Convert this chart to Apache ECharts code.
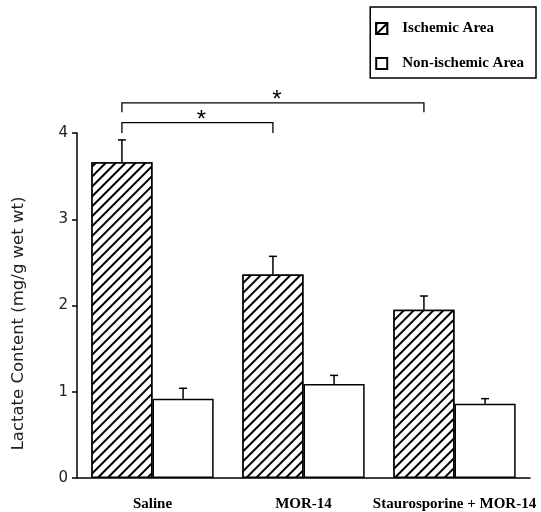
<!DOCTYPE html>
<html>
<head>
<meta charset="utf-8">
<script src="https://cdn.jsdelivr.net/npm/echarts@6/dist/echarts.min.js"></script>
<style>
html,body{margin:0;padding:0;background:#fff;}
#chart{width:541px;height:512px;}
</style>
</head>
<body>
<div id="chart"></div>
<script>
var categories = ['Saline', 'MOR-14', 'Staurosporine + MOR-14'];
var ischemic = [3.66, 2.36, 1.95];
var ischemicErr = [0.26, 0.21, 0.16];
var nonIschemic = [0.92, 1.09, 0.86];
var nonIschemicErr = [0.12, 0.10, 0.06];
var yTicks = [0, 1, 2, 3, 4];
// significance brackets: [fromCategory, toCategory, bracketLevel, dropLength]
var brackets = [[0, 1, 4.12, 0.12], [0, 2, 4.35, 0.11]];

var BAR_CAT_GAP = 0.19;
var chart = echarts.init(document.getElementById('chart'), null, {renderer: 'canvas'});

function barOffset(api, which) {
  var band = api.size([1, 0])[0];
  var w = band * (1 - BAR_CAT_GAP) / 2;
  return which === 0 ? -w / 2 : w / 2;
}

function errData(vals, errs, which) {
  return vals.map(function (v, i) { return [i, v, v + errs[i], which]; });
}

function renderErr(params, api) {
  var i = api.value(0);
  var off = barOffset(api, api.value(3));
  var p0 = api.coord([i, api.value(1)]);
  var p1 = api.coord([i, api.value(2)]);
  var x = p0[0] + off;
  var cap = 4;
  var st = {stroke: '#000', lineWidth: 1.5};
  return {
    type: 'group',
    children: [
      {type: 'line', shape: {x1: x, y1: p0[1], x2: x, y2: p1[1]}, style: st},
      {type: 'line', shape: {x1: x - cap, y1: p1[1], x2: x + cap, y2: p1[1]}, style: st}
    ]
  };
}

function renderBracket(params, api) {
  var a = api.value(0), b = api.value(1), lvl = api.value(2), drop = api.value(3);
  var off = barOffset(api, 0);
  var pa = api.coord([a, lvl]);
  var pb = api.coord([b, lvl]);
  var pd = api.coord([a, lvl - drop]);
  var xa = pa[0] + off, xb = pb[0] + off, y = pa[1], yd = pd[1];
  var st = {stroke: '#000', lineWidth: 1.3, fill: null};
  return {
    type: 'group',
    children: [
      {type: 'polyline', shape: {points: [[xa, yd], [xa, y], [xb, y], [xb, yd]]}, style: st},
      {type: 'text', style: {text: '*', x: (xa + xb) / 2 + 4, y: y + 10, textAlign: 'center', textVerticalAlign: 'bottom', font: '24px "Liberation Sans"', fill: '#000'}}
    ]
  };
}

var hatch = {
  symbol: 'rect',
  symbolSize: 1,
  color: '#000',
  backgroundColor: '#fff',
  dashArrayX: [1, 0],
  dashArrayY: [1.2, 4.5],
  rotation: -Math.PI / 4
};

chart.setOption({
  backgroundColor: '#fff',
  animation: false,
  grid: {left: 77, right: 11, top: 133, bottom: 34},
  legend: {
    orient: 'vertical',
    right: 5,
    top: 7,
    padding: [14, 12, 7, 5],
    borderColor: '#000',
    borderWidth: 1.5,
    itemWidth: 11,
    itemHeight: 11,
    itemGap: 20,
    icon: 'rect',
    textStyle: {fontFamily: '"Liberation Serif"', fontWeight: 'bold', fontSize: 15, color: '#000', padding: [0, 0, 0, 10]},
    data: ['Ischemic Area', 'Non-ischemic Area']
  },
  xAxis: {
    type: 'category',
    data: categories,
    axisLine: {lineStyle: {color: '#000', width: 1.5}},
    axisTick: {show: false},
    axisLabel: {interval: 0, margin: 19, fontFamily: '"Liberation Serif"', fontWeight: 'bold', fontSize: 15, color: '#000'}
  },
  yAxis: {
    type: 'value',
    min: yTicks[0],
    max: yTicks[yTicks.length - 1],
    interval: 1,
    name: 'Lactate Content (mg/g wet wt)',
    nameLocation: 'middle',
    nameGap: 50,
    nameTextStyle: {fontFamily: '"DejaVu Sans"', fontSize: 16.5, color: '#222', padding: [0, 36, 0, 0]},
    axisLine: {show: true, lineStyle: {color: '#000', width: 1.5}},
    axisTick: {show: true, length: 5, lineStyle: {color: '#000', width: 1.5}},
    splitLine: {show: false},
    axisLabel: {margin: 9, fontFamily: '"DejaVu Sans"', fontSize: 15, color: '#222'}
  },
  series: [
    {
      name: 'Ischemic Area',
      type: 'bar',
      data: ischemic,
      barGap: '0%',
      barCategoryGap: (BAR_CAT_GAP * 100) + '%',
      itemStyle: {color: '#fff', borderColor: '#000', borderWidth: 1.5, decal: hatch}
    },
    {
      name: 'Non-ischemic Area',
      type: 'bar',
      data: nonIschemic,
      barGap: '0%',
      barCategoryGap: (BAR_CAT_GAP * 100) + '%',
      itemStyle: {color: '#fff', borderColor: '#000', borderWidth: 1.5}
    },
    {
      type: 'custom',
      renderItem: renderErr,
      data: errData(ischemic, ischemicErr, 0).concat(errData(nonIschemic, nonIschemicErr, 1)),
      encode: {x: 0, y: 2},
      clip: false,
      silent: true,
      z: 5
    },
    {
      type: 'custom',
      renderItem: renderBracket,
      data: brackets,
      encode: {x: [0, 1], y: 2},
      clip: false,
      silent: true,
      z: 5
    }
  ]
});
</script>
</body>
</html>
